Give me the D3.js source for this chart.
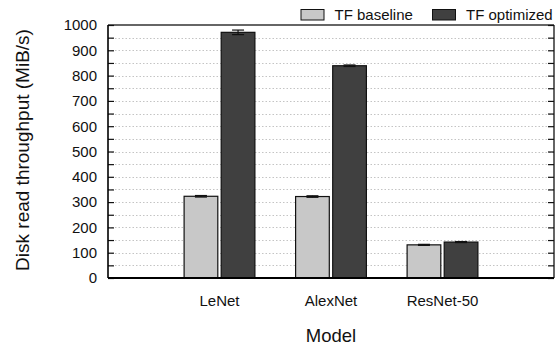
<!DOCTYPE html>
<html>
<head>
<meta charset="utf-8">
<script src="https://cdn.jsdelivr.net/npm/d3@7"></script>
<style>
  html, body { margin: 0; padding: 0; background: #fff; }
  svg { display: block; font-family: "Liberation Sans", Arial, Helvetica, sans-serif; }
</style>
</head>
<body>
<svg id="chart" width="555" height="349"></svg>
<script>
// Disk read throughput per model, baseline vs optimized input pipeline
const models = ["LeNet", "AlexNet", "ResNet-50"];
const seriesNames = ["TF baseline", "TF optimized"];
const baselineValues = [323, 322, 131];
const baselineErrors = [3, 3, 2];
const optimizedValues = [971, 839, 142];
const optimizedErrors = [9, 3, 2];
const yTickValues = [0, 100, 200, 300, 400, 500, 600, 700, 800, 900, 1000];
const yMinorValues = [50, 150, 250, 350, 450, 550, 650, 750, 850, 950];
const seriesColors = ["#c8c8c8", "#404040"];

const svg = d3.select("#chart");
const margin = { left: 108, right: 1, top: 25, bottom: 71 };
const W = 555, H = 349;
const x0 = margin.left, x1 = W - margin.right;
const y0 = H - margin.bottom, y1 = margin.top;
const FONT = "Liberation Sans, Arial, sans-serif";

// Category slots sit at 1, 2, 3 on a 0..4 axis
const slot = (x1 - x0) / 4;
const x = d3.scaleBand().domain(models).range([x0 + slot / 2, x1 - slot / 2]);
const y = d3.scaleLinear().domain([0, 1000]).range([y0, y1]);

const barW = 33.7, gap = 3.4;
const sub = d3.scaleOrdinal().domain(seriesNames)
  .range([-gap / 2 - barW, gap / 2]);

// dotted grid every 50
const grid = svg.append("g");
grid.selectAll("line").data(yTickValues.concat(yMinorValues).filter(v => v > 0 && v < 1000))
  .join("line")
  .attr("x1", x0).attr("x2", x1)
  .attr("y1", d => Math.round(y(d)) + 0.5).attr("y2", d => Math.round(y(d)) + 0.5)
  .attr("stroke", "#c4c4c4").attr("stroke-width", 1)
  .attr("stroke-dasharray", "1.5,2");

// bars
const rows = models.map((m, i) => [
  { model: m, series: seriesNames[0], value: baselineValues[i], err: baselineErrors[i] },
  { model: m, series: seriesNames[1], value: optimizedValues[i], err: optimizedErrors[i] }
]).flat();

svg.append("g").selectAll("rect").data(rows).join("rect")
  .attr("x", d => x(d.model) + x.bandwidth() / 2 + sub(d.series))
  .attr("y", d => y(d.value))
  .attr("width", barW)
  .attr("height", d => y(0) - y(d.value))
  .attr("fill", d => seriesColors[seriesNames.indexOf(d.series)])
  .attr("stroke", "#111").attr("stroke-width", 1.2);

// error bars
const eb = svg.append("g").attr("stroke", "#111").attr("stroke-width", 1.2);
rows.forEach(d => {
  const cx = x(d.model) + x.bandwidth() / 2 + sub(d.series) + barW / 2;
  eb.append("line").attr("x1", cx).attr("x2", cx)
    .attr("y1", y(d.value + d.err)).attr("y2", y(d.value - d.err));
  [d.value + d.err, d.value - d.err].forEach(v => {
    eb.append("line").attr("x1", cx - 6).attr("x2", cx + 6)
      .attr("y1", y(v)).attr("y2", y(v));
  });
});

// frame
svg.append("line").attr("x1", x0).attr("x2", x1).attr("y1", y1).attr("y2", y1)
  .attr("stroke", "#333").attr("stroke-width", 1.3);
svg.append("line").attr("x1", x1).attr("x2", x1).attr("y1", y1).attr("y2", y0)
  .attr("stroke", "#111").attr("stroke-width", 1.3);

// left axis with inward ticks
const yAxis = d3.axisLeft(y).tickValues(yTickValues).tickSize(-6).tickPadding(11)
  .tickFormat(d3.format("d"));
const ga = svg.append("g").attr("transform", `translate(${x0},0)`).call(yAxis);
ga.select(".domain").remove();
ga.selectAll(".tick line").attr("stroke", "#111").attr("stroke-width", 1.2);
ga.selectAll(".tick text").attr("font-size", 15).attr("fill", "#111")
  .attr("font-family", FONT);
const gMinor = svg.append("g").attr("transform", `translate(${x0},0)`)
  .call(d3.axisLeft(y).tickValues(yMinorValues).tickSize(-6).tickFormat(""));
gMinor.select(".domain").remove();
gMinor.selectAll(".tick line").attr("stroke", "#111").attr("stroke-width", 1.2);

// right ticks
const gr = svg.append("g").attr("transform", `translate(${x1},0)`)
  .call(d3.axisRight(y).tickValues(yTickValues.concat(yMinorValues)).tickSize(-6).tickFormat(""));
gr.select(".domain").remove();
gr.selectAll(".tick line").attr("stroke", "#111").attr("stroke-width", 1.2);

// left and bottom axis lines
svg.append("line").attr("x1", x0).attr("x2", x0).attr("y1", y1).attr("y2", y0)
  .attr("stroke", "#000").attr("stroke-width", 1.6);
svg.append("line").attr("x1", x0).attr("x2", x1).attr("y1", y0).attr("y2", y0)
  .attr("stroke", "#000").attr("stroke-width", 1.8);

// category labels
const gx = svg.append("g").attr("transform", `translate(0,${y0})`)
  .call(d3.axisBottom(x).tickSize(0).tickPadding(17));
gx.select(".domain").remove();
gx.selectAll(".tick text").attr("font-size", 15).attr("fill", "#111")
  .attr("font-family", FONT);

// axis titles
svg.append("text").attr("x", 331).attr("y", 342)
  .attr("text-anchor", "middle").attr("font-size", 18.5).attr("fill", "#111")
  .text("Model");
svg.append("text")
  .attr("transform", `translate(29,150) rotate(-90)`)
  .attr("text-anchor", "middle").attr("font-size", 19).attr("fill", "#111")
  .text("Disk read throughput (MiB/s)");

// legend
const lg = svg.append("g");
const legendX = [301, 432.5];
seriesNames.forEach((s, i) => {
  lg.append("rect").attr("x", legendX[i]).attr("y", 9.5).attr("width", 23).attr("height", 10.5)
    .attr("fill", seriesColors[i]).attr("stroke", "#111").attr("stroke-width", 1);
  lg.append("text").attr("x", legendX[i] + 33.5).attr("y", 20)
    .attr("font-size", 15).attr("fill", "#111").text(s);
});
</script>
</body>
</html>
